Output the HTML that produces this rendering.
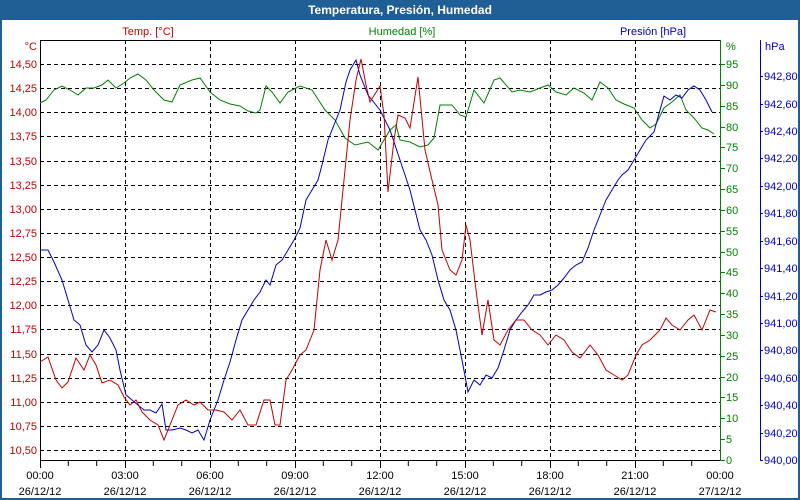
<!DOCTYPE html>
<html><head><meta charset="utf-8"><style>
html,body{margin:0;padding:0;background:#fff;}
svg{display:block;font-family:"Liberation Sans",sans-serif;font-size:11px;}
</style></head><body>
<svg width="800" height="500" xmlns="http://www.w3.org/2000/svg">
<rect x="0" y="0" width="800" height="500" fill="#1f5f96"/>
<rect x="2" y="20" width="796" height="478" fill="#fff"/>
<text x="400" y="14" text-anchor="middle" fill="#fff" font-weight="bold" font-size="12">Temperatura, Presión, Humedad</text>
<g stroke="#000" stroke-dasharray="4,3" stroke-width="1">
<line x1="40" y1="64.5" x2="720" y2="64.5"/><line x1="40" y1="88.5" x2="720" y2="88.5"/><line x1="40" y1="112.5" x2="720" y2="112.5"/><line x1="40" y1="136.5" x2="720" y2="136.5"/><line x1="40" y1="161.5" x2="720" y2="161.5"/><line x1="40" y1="185.5" x2="720" y2="185.5"/><line x1="40" y1="209.5" x2="720" y2="209.5"/><line x1="40" y1="233.5" x2="720" y2="233.5"/><line x1="40" y1="257.5" x2="720" y2="257.5"/><line x1="40" y1="281.5" x2="720" y2="281.5"/><line x1="40" y1="305.5" x2="720" y2="305.5"/><line x1="40" y1="329.5" x2="720" y2="329.5"/><line x1="40" y1="354.5" x2="720" y2="354.5"/><line x1="40" y1="378.5" x2="720" y2="378.5"/><line x1="40" y1="402.5" x2="720" y2="402.5"/><line x1="40" y1="426.5" x2="720" y2="426.5"/><line x1="40" y1="450.5" x2="720" y2="450.5"/>
<line x1="125.5" y1="40" x2="125.5" y2="460"/><line x1="210.5" y1="40" x2="210.5" y2="460"/><line x1="295.5" y1="40" x2="295.5" y2="460"/><line x1="380.5" y1="40" x2="380.5" y2="460"/><line x1="465.5" y1="40" x2="465.5" y2="460"/><line x1="550.5" y1="40" x2="550.5" y2="460"/><line x1="635.5" y1="40" x2="635.5" y2="460"/>
</g>
<g stroke="#000"><line x1="40" y1="40.5" x2="720" y2="40.5"/><line x1="40.5" y1="40" x2="40.5" y2="461"/><line x1="40" y1="460.5" x2="720" y2="460.5"/>
<path d="M68.3 461v5M96.7 461v5M125.5 461v7M153.3 461v5M181.7 461v5M210.5 461v7M238.3 461v5M266.7 461v5M295.5 461v7M323.3 461v5M351.7 461v5M380.5 461v7M408.3 461v5M436.7 461v5M465.5 461v7M493.3 461v5M521.7 461v5M550.5 461v7M578.3 461v5M606.7 461v5M635.5 461v7M663.3 461v5M691.7 461v5M40.5 461v7"/></g>
<line x1="720.5" y1="40" x2="720.5" y2="461" stroke="#008000"/>
<g stroke="#008000"><path d="M720 64.5h5M720 85.5h5M720 106.5h5M720 127.5h5M720 147.5h5M720 168.5h5M720 189.5h5M720 210.5h5M720 231.5h5M720 252.5h5M720 272.5h5M720 293.5h5M720 314.5h5M720 335.5h5M720 356.5h5M720 377.5h5M720 397.5h5M720 418.5h5M720 439.5h5M720 460.5h5"/></g>
<line x1="760.5" y1="40" x2="760.5" y2="461" stroke="#0000c0"/>
<g stroke="#0000c0"><path d="M760 76.5h3M760 104.5h3M760 131.5h3M760 158.5h3M760 186.5h3M760 213.5h3M760 241.5h3M760 268.5h3M760 296.5h3M760 323.5h3M760 350.5h3M760 378.5h3M760 405.5h3M760 433.5h3M760 460.5h3"/></g>
<g fill="#c00000" text-anchor="end">
<text x="37" y="50">°C</text>
<text x="37" y="68">14,50</text><text x="37" y="92">14,25</text><text x="37" y="116">14,00</text><text x="37" y="140">13,75</text><text x="37" y="165">13,50</text><text x="37" y="189">13,25</text><text x="37" y="213">13,00</text><text x="37" y="237">12,75</text><text x="37" y="261">12,50</text><text x="37" y="285">12,25</text><text x="37" y="309">12,00</text><text x="37" y="333">11,75</text><text x="37" y="358">11,50</text><text x="37" y="382">11,25</text><text x="37" y="406">11,00</text><text x="37" y="430">10,75</text><text x="37" y="454">10,50</text>
</g>
<text x="148" y="35" fill="#c00000" text-anchor="middle">Temp. [°C]</text>
<text x="402" y="35" fill="#008000" text-anchor="middle">Humedad [%]</text>
<text x="653" y="35" fill="#0000c0" text-anchor="middle">Presión [hPa]</text>
<g fill="#008000">
<text x="726" y="50">%</text>
<text x="726" y="68">95</text><text x="726" y="89">90</text><text x="726" y="110">85</text><text x="726" y="131">80</text><text x="726" y="151">75</text><text x="726" y="172">70</text><text x="726" y="193">65</text><text x="726" y="214">60</text><text x="726" y="235">55</text><text x="726" y="256">50</text><text x="726" y="276">45</text><text x="726" y="297">40</text><text x="726" y="318">35</text><text x="726" y="339">30</text><text x="726" y="360">25</text><text x="726" y="381">20</text><text x="726" y="401">15</text><text x="726" y="422">10</text><text x="726" y="443">5</text><text x="726" y="464">0</text>
</g>
<g fill="#0000c0">
<text x="765" y="50">hPa</text>
<text x="764" y="80">942,80</text><text x="764" y="108">942,60</text><text x="764" y="135">942,40</text><text x="764" y="162">942,20</text><text x="764" y="190">942,00</text><text x="764" y="217">941,80</text><text x="764" y="245">941,60</text><text x="764" y="272">941,40</text><text x="764" y="300">941,20</text><text x="764" y="327">941,00</text><text x="764" y="354">940,80</text><text x="764" y="382">940,60</text><text x="764" y="409">940,40</text><text x="764" y="437">940,20</text><text x="764" y="464">940,00</text>
</g>
<g fill="#000" text-anchor="middle">
<text x="40" y="479">00:00</text><text x="40" y="495">26/12/12</text>
<text x="125" y="479">03:00</text><text x="125" y="495">26/12/12</text>
<text x="210" y="479">06:00</text><text x="210" y="495">26/12/12</text>
<text x="295" y="479">09:00</text><text x="295" y="495">26/12/12</text>
<text x="380" y="479">12:00</text><text x="380" y="495">26/12/12</text>
<text x="465" y="479">15:00</text><text x="465" y="495">26/12/12</text>
<text x="550" y="479">18:00</text><text x="550" y="495">26/12/12</text>
<text x="635" y="479">21:00</text><text x="635" y="495">26/12/12</text>
<text x="720" y="479">00:00</text><text x="720" y="495">27/12/12</text>
</g>
<polyline fill="none" stroke="#008000" points="40,103 46,100 54,90 62,86 70,90 78,95 86,88 94,88 102,85 108,80 116,88 124,83 130,78 138,74 146,80 154,90 164,100 172,102 180,85 192,80 200,78 210,92 220,100 230,104 240,106 248,111 256,113 260,110 266,86 272,92 280,103 288,92 296,88 300,86 312,90 325,110 335,120 345,138 355,145 368,142 378,150 390,130 396,125 400,140 410,142 420,147 428,145 434,138 440,105 452,105 460,115 466,117 474,90 484,103 494,80 500,78 512,92 520,90 530,92 540,88 548,85 556,92 566,95 574,88 584,93 592,100 600,82 608,88 616,100 624,104 634,108 642,120 650,128 656,124 664,108 672,102 680,95 686,110 694,118 702,128 708,130 714,134"/>
<polyline fill="none" stroke="#0000c0" points="40,250 48,250 54,262 62,280 68,300 74,320 80,325 86,345 92,352 98,345 104,330 110,338 116,350 120,370 126,395 132,400 138,405 144,410 150,410 156,413 162,404 166,430 172,430 180,428 186,430 192,433 198,430 204,440 210,420 218,400 224,380 230,362 236,340 242,320 248,310 254,300 260,292 266,280 270,285 276,265 282,260 288,250 294,240 300,228 306,200 312,190 318,180 322,165 328,140 334,125 340,110 346,82 350,70 356,60 360,75 368,95 380,110 390,130 400,160 410,190 420,230 426,240 432,255 438,280 444,300 450,310 456,330 462,360 468,392 474,380 480,385 486,375 492,378 498,368 504,350 510,330 516,320 522,312 528,305 534,295 540,295 546,292 552,290 558,285 564,278 570,270 576,265 582,262 588,248 594,230 600,215 606,200 612,190 618,180 622,175 628,170 634,160 640,150 646,140 654,132 660,110 664,96 670,100 676,95 682,98 688,90 694,86 700,90 706,100 712,112"/>
<polyline fill="none" stroke="#c00000" points="40,362 48,357 56,380 62,388 68,382 76,358 84,370 90,355 96,365 102,383 110,380 118,385 124,397 130,405 136,400 142,412 150,420 158,425 164,440 170,425 178,405 186,400 194,405 200,402 208,410 216,410 224,412 232,420 240,410 248,425 256,425 264,400 270,400 275,425 280,425 286,380 292,370 300,355 306,350 314,330 320,270 326,240 332,260 338,240 344,180 350,120 356,80 361,59 366,85 370,102 380,86 384,115 388,192 394,140 398,115 405,118 410,128 418,77 425,150 432,180 438,205 442,250 450,270 456,275 462,260 466,225 470,240 476,290 482,335 488,300 494,340 500,345 508,330 516,320 524,320 532,330 540,335 548,345 556,335 564,340 572,352 580,358 590,345 598,355 606,370 614,375 622,380 628,375 636,355 642,345 650,340 660,330 666,318 672,325 680,330 688,320 694,315 702,330 710,310 716,312"/>
</svg>
</body></html>
